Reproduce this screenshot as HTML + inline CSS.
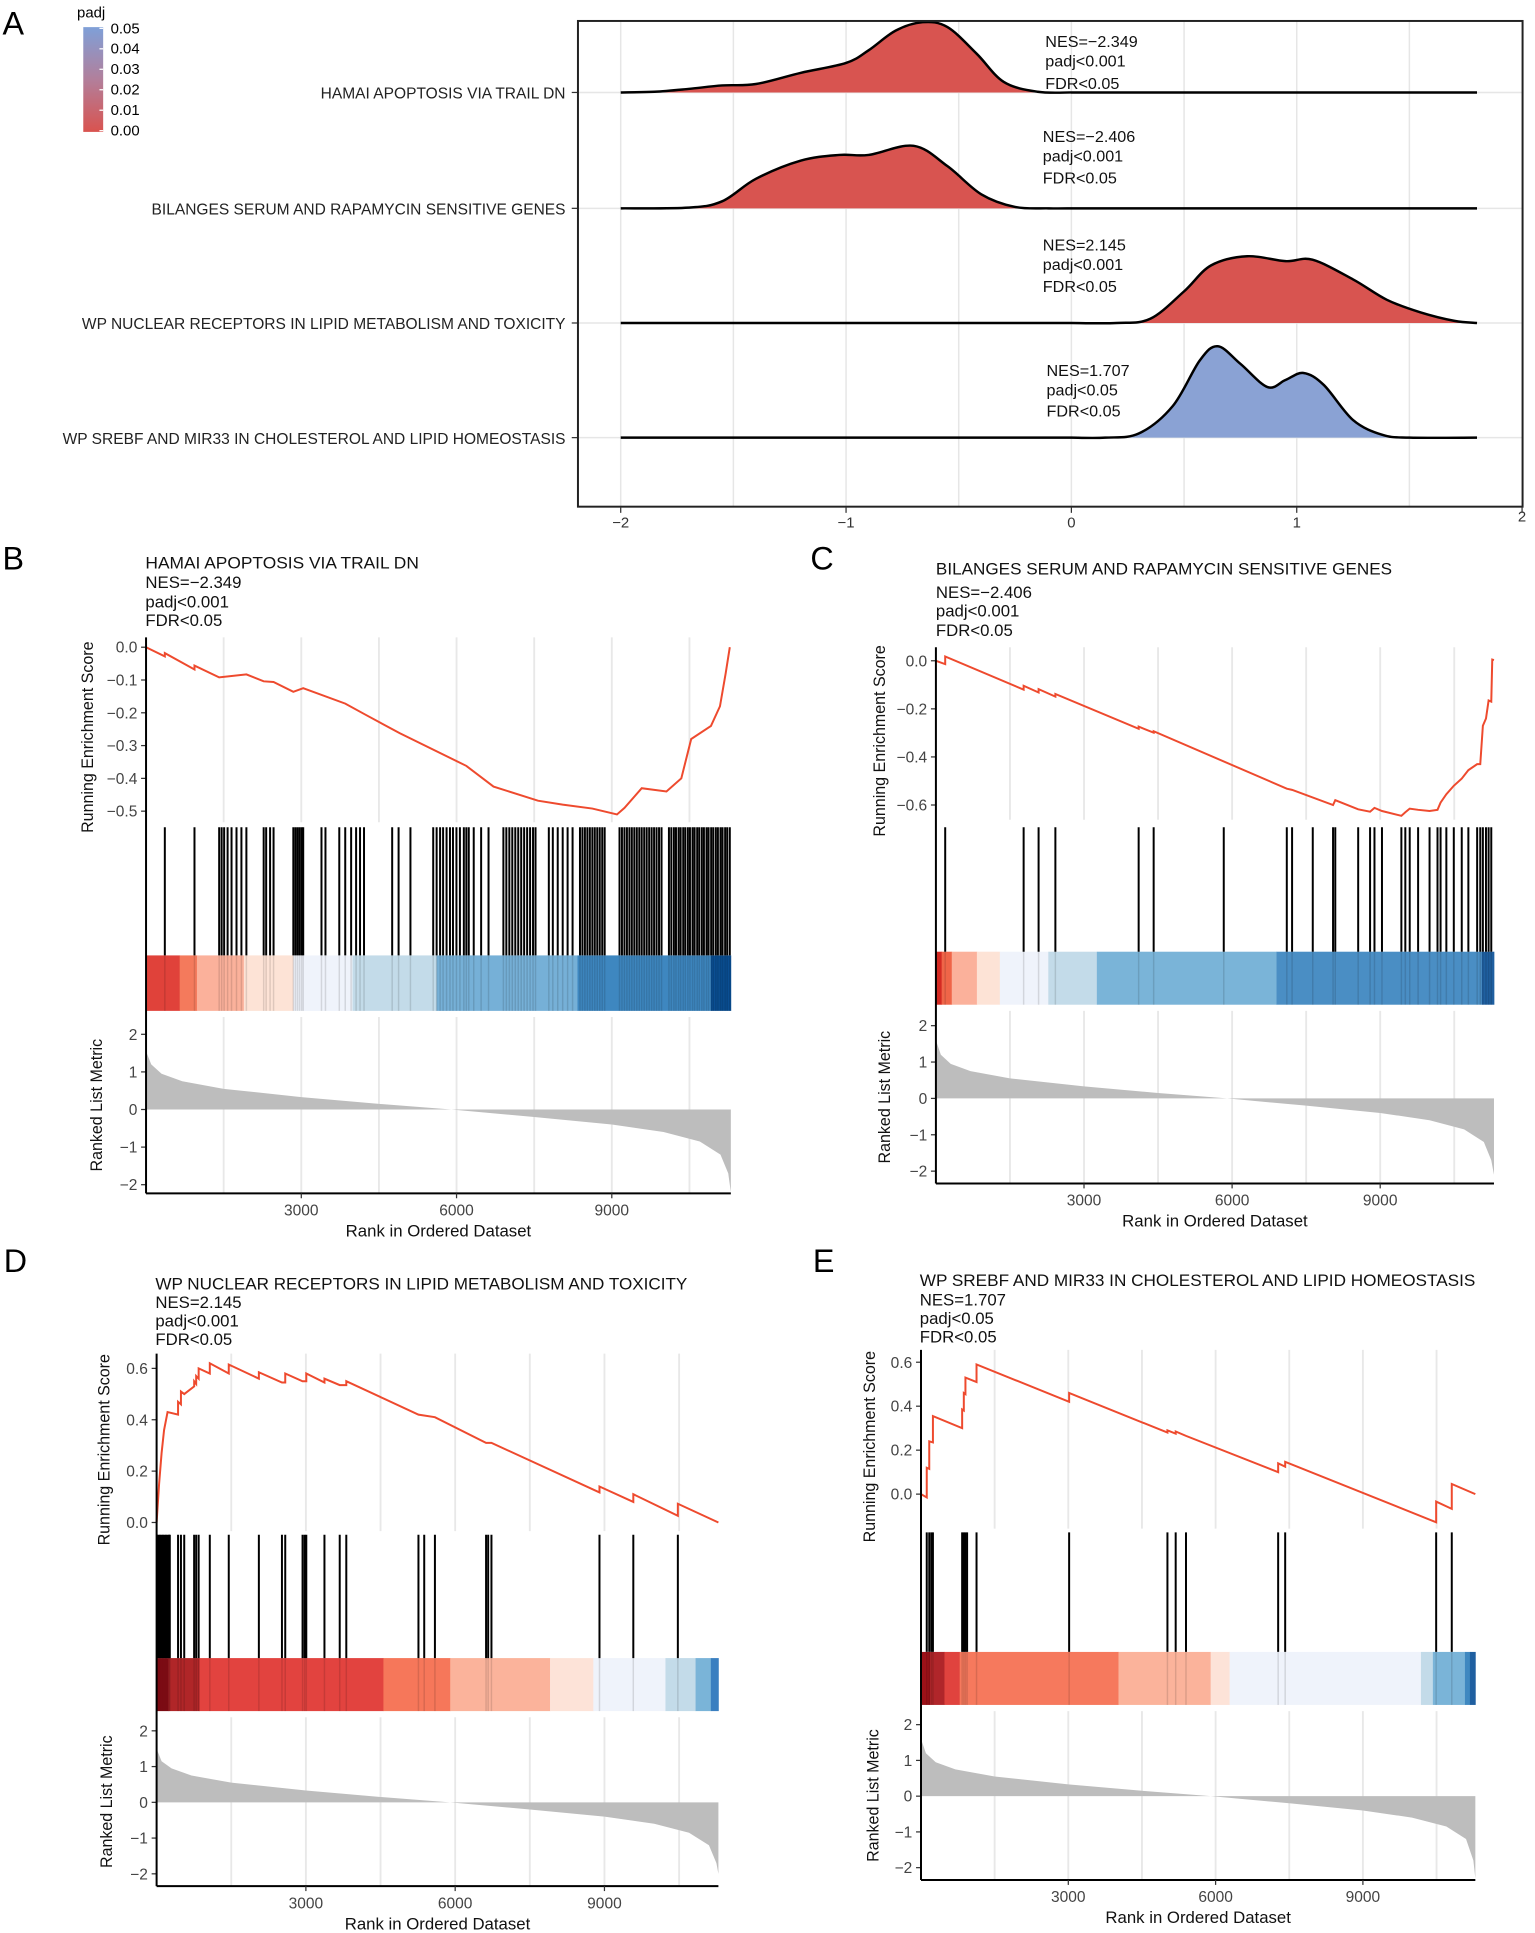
<!DOCTYPE html>
<html><head><meta charset="utf-8"><style>
html,body{margin:0;padding:0;background:#fff}
svg{display:block;font-family:"Liberation Sans",Arial,sans-serif}
</style></head><body>
<svg id="fig" xmlns="http://www.w3.org/2000/svg" width="1535" height="1933" viewBox="0 0 1235 1568" preserveAspectRatio="none"></svg>
<script>
// ---------- Panel A data ----------
const ridgeNames = ["HAMAI APOPTOSIS VIA TRAIL DN","BILANGES SERUM AND RAPAMYCIN SENSITIVE GENES","WP NUCLEAR RECEPTORS IN LIPID METABOLISM AND TOXICITY","WP SREBF AND MIR33 IN CHOLESTEROL AND LIPID HOMEOSTASIS"];
const ridgeNES = ["NES=−2.349","NES=−2.406","NES=2.145","NES=1.707"];
const ridgePadj = ["padj<0.001","padj<0.001","padj<0.001","padj<0.05"];
const ridgePadjValue = [0.0005,0.0005,0.0005,0.045];
const ridge1 = [[-2,0],[-1.85,0.01],[-1.7,0.05],[-1.55,0.1],[-1.4,0.12],[-1.2,0.28],[-1.0,0.42],[-0.9,0.6],[-0.78,0.88],[-0.66,1.0],[-0.55,0.93],[-0.42,0.55],[-0.3,0.15],[-0.15,0.01],[0,0]];
const ridge2 = [[-2,0],[-1.7,0.01],[-1.55,0.1],[-1.4,0.42],[-1.2,0.68],[-1.03,0.76],[-0.9,0.76],[-0.7,0.89],[-0.55,0.6],[-0.4,0.2],[-0.25,0.02],[-0.1,0],[0,0]];
const ridge3 = [[0,0],[0.2,0],[0.35,0.06],[0.5,0.45],[0.62,0.82],[0.78,0.95],[0.95,0.88],[1.07,0.9],[1.25,0.62],[1.4,0.33],[1.55,0.15],[1.7,0.03],[1.8,0]];
const ridge4 = [[0,0],[0.15,0],[0.3,0.06],[0.45,0.45],[0.57,1.1],[0.65,1.3],[0.75,1.05],[0.87,0.72],[0.95,0.82],[1.03,0.92],[1.12,0.75],[1.25,0.25],[1.38,0.04],[1.5,0],[1.8,0]];
const xTicksA = [-2,-1,0,1,2];

// ---------- GSEA data ----------
const esB = [[0,0],[363,-0.028],[363,-0.018],[936,-0.068],[936,-0.056],[1413,-0.092],[1940,-0.083],[2273,-0.104],[2464,-0.106],[2846,-0.136],[3037,-0.125],[3850,-0.172],[4231,-0.205],[4900,-0.262],[6190,-0.362],[6714,-0.425],[7573,-0.468],[8050,-0.48],[8624,-0.492],[9100,-0.51],[9245,-0.49],[9578,-0.43],[10056,-0.44],[10343,-0.4],[10534,-0.28],[10916,-0.24],[11090,-0.18],[11200,-0.08],[11280,0]];
const hitsB = [363,936,1413,1461,1509,1576,1652,1748,1843,1939,2273,2321,2397,2464,2846,2886,2926,2966,3006,3037,3390,3467,3734,3849,3963,4059,4135,4212,4756,4880,5109,5549,5615,5682,5740,5807,5873,5931,5998,6065,6141,6189,6236,6332,6475,6618,6905,6962,7020,7077,7135,7192,7249,7306,7364,7421,7478,7526,7783,7860,7955,8051,8146,8242,8385,8432,8480,8528,8576,8624,8671,8719,8767,8815,8862,9149,9196,9244,9292,9340,9387,9435,9483,9531,9578,9626,9674,9722,9770,9817,9865,9913,9961,10104,10150,10200,10240,10290,10330,10380,10420,10470,10510,10560,10600,10650,10690,10740,10780,10830,10870,10920,10960,11010,11050,11100,11140,11190,11230,11280];
const heatBreaksB = [0,650,984,1890,2846,3990,5615,8337,10916,11300];
const heatColorsB = ["#e0423a","#f47a5c","#fbb19b","#fde3d6","#eff3fb","#c3dbe9","#76b0d7","#3e87c0","#0a4e92"];
const metricB = [[0,1.55],[100,1.2],[300,0.95],[700,0.75],[1500,0.55],[3000,0.33],[4500,0.15],[5900,0],[7500,-0.2],[9000,-0.4],[10000,-0.6],[10700,-0.85],[11100,-1.2],[11250,-1.7],[11300,-2.2]];

const esC = [[0,0],[188,-0.014],[188,0.018],[1777,-0.12],[1777,-0.104],[2080,-0.132],[2080,-0.118],[2420,-0.149],[2420,-0.138],[4107,-0.283],[4107,-0.274],[4411,-0.299],[4411,-0.293],[7108,-0.532],[7215,-0.537],[8045,-0.6],[8090,-0.58],[8554,-0.618],[8795,-0.628],[8884,-0.612],[9036,-0.625],[9429,-0.645],[9509,-0.63],[9598,-0.615],[9768,-0.62],[10000,-0.625],[10161,-0.62],[10223,-0.59],[10340,-0.555],[10491,-0.52],[10652,-0.49],[10786,-0.455],[10964,-0.43],[11027,-0.43],[11080,-0.27],[11143,-0.24],[11196,-0.165],[11250,-0.17],[11270,0.005],[11305,0.003]];
const hitsC = [188,1777,2080,2420,4107,4411,5831,7108,7215,7634,8045,8090,8554,8795,8884,9036,9429,9509,9598,9768,10000,10161,10223,10340,10491,10652,10786,10964,11027,11080,11143,11196,11250];
const heatBreaksC = [0,116,321,830,1295,2277,3260,6900,11060,11305];
const heatColorsC = ["#d42a22","#ef6548","#fbb19b","#fde3d6","#eff3fb","#c3dbe9","#7ab4d8","#4a8ec4","#1f5fa0"];
const metricC = [[0,1.6],[100,1.2],[300,0.95],[700,0.75],[1500,0.55],[3000,0.33],[4500,0.15],[5900,0],[7500,-0.2],[9000,-0.4],[10000,-0.6],[10700,-0.85],[11100,-1.2],[11250,-1.7],[11305,-2.1]];

const esD = [[0,0],[50,0.15],[100,0.27],[150,0.36],[220,0.43],[431,0.42],[431,0.47],[489,0.46],[489,0.51],[555,0.5],[755,0.53],[755,0.55],[795,0.54],[795,0.57],[845,0.56],[845,0.6],[1069,0.58],[1069,0.62],[1450,0.58],[1450,0.615],[2055,0.56],[2055,0.585],[2519,0.545],[2585,0.545],[2585,0.58],[2933,0.55],[3008,0.55],[3008,0.58],[3373,0.545],[3373,0.56],[3680,0.535],[3812,0.535],[3812,0.55],[5262,0.42],[5593,0.41],[6621,0.31],[6729,0.31],[8900,0.117],[8900,0.14],[9580,0.08],[9580,0.11],[10475,0.026],[10475,0.073],[11290,0]];
const hitsD = [10,40,70,100,130,160,190,220,250,265,431,489,555,754,795,845,1069,1450,2055,2519,2585,2933,2975,3008,3373,3680,3812,5262,5378,5593,6621,6663,6729,8900,9580,10475];
const heatBreaksD = [0,240,862,4558,5900,7906,8776,10226,10831,11138,11290];
const heatColorsD = ["#8c0d16","#b02628","#e2433f","#f6775a","#fbb39b","#fde3d8","#eff3fb","#c3dbe9","#7ab4d8","#3a7fc0"];
const metricD = [[0,1.5],[100,1.15],[300,0.95],[700,0.75],[1500,0.55],[3000,0.33],[4500,0.15],[5900,0],[7500,-0.2],[9000,-0.4],[10000,-0.6],[10700,-0.85],[11100,-1.2],[11250,-1.7],[11290,-2.0]];

const esE = [[0,0],[117,-0.015],[117,0.12],[168,0.115],[168,0.24],[243,0.235],[243,0.355],[838,0.3],[838,0.385],[872,0.38],[872,0.46],[905,0.455],[905,0.53],[1131,0.51],[1131,0.59],[3017,0.42],[3017,0.46],[5019,0.28],[5019,0.29],[5187,0.275],[5187,0.285],[5397,0.265],[7274,0.1],[7274,0.14],[7417,0.125],[7417,0.147],[10492,-0.128],[10492,-0.034],[10810,-0.067],[10810,0.046],[11290,0]];
const hitsE = [117,168,210,243,838,872,905,939,1131,3017,5019,5187,5397,7274,7417,10492,10810];
const heatBreaksE = [0,184,478,788,4022,5899,6285,10182,10425,11078,11179,11290];
const heatColorsE = ["#9b1118","#b0262a","#e0433e","#f6795d","#fbb39b","#fde3d8","#eff3fb","#c3dbe9","#7ab4d8","#3f88c0","#1f5fa0"];
const metricE = [[0,1.6],[100,1.2],[300,0.95],[700,0.75],[1500,0.55],[3000,0.33],[4500,0.15],[5900,0],[7500,-0.2],[9000,-0.4],[10000,-0.6],[10700,-0.85],[11100,-1.2],[11250,-1.8],[11290,-2.3]];

const rankTicks = [3000,6000,9000];
const rankGrid = [1500,3000,4500,6000,7500,9000,10500];
const metricTicks = [2,1,0,-1,-2];

const NS = "http://www.w3.org/2000/svg";
const svg = document.getElementById("fig");
function el(tag, attrs, parent){const e=document.createElementNS(NS,tag);for(const k in attrs)e.setAttribute(k,attrs[k]);(parent||svg).appendChild(e);return e;}
function txt(s, attrs, parent){const e=el("text",attrs,parent);e.textContent=s;return e;}

// ---------- Panel A ----------
const gA = el("g",{});


const ax = v => 862 + v*181.3;
const baseY = [75,169,262,355];
const dScale = 57;
const lblA = txt("A",{x:2,y:28,"font-size":26},gA);


[-1.5,-0.5,0.5,1.5,-2,-1,0,1].forEach(v=>{const l=el("line",{x1:ax(v),x2:ax(v),y1:17,y2:411,stroke:"#e6e6e6","stroke-width":1.2},gA);

});
baseY.forEach(y=>{const l=el("line",{x1:465,x2:1225,y1:y,y2:y,stroke:"#e6e6e6","stroke-width":1.2},gA);

});
function smoothPath(pts){let d="M"+pts[0][0]+","+pts[0][1];for(let i=0;i<pts.length-1;i++){const p0=pts[i-1]||pts[i],p1=pts[i],p2=pts[i+1],p3=pts[i+2]||p2;const c1=[p1[0]+(p2[0]-p0[0])/6,p1[1]+(p2[1]-p0[1])/6],c2=[p2[0]-(p3[0]-p1[0])/6,p2[1]-(p3[1]-p1[1])/6];d+=` C${c1[0]},${c1[1]} ${c2[0]},${c2[1]} ${p2[0]},${p2[1]}`;}return d;}
function padjColor(p){const t=Math.min(1,p/0.05);const a=[217,83,79],b=[127,160,216];return `rgb(${a.map((c,i)=>Math.round(c+(b[i]-c)*t)).join(",")})`;}
const ridges=[ridge1,ridge2,ridge3,ridge4];
ridges.forEach((r,i)=>{
  const y0=baseY[i];
  const pts=r.map(p=>[ax(p[0]),y0-p[1]*dScale]);
  const d=smoothPath(pts);
  const fill=el("path",{d:d+` L${pts[pts.length-1][0]},${y0} L${pts[0][0]},${y0} Z`,fill:i===3?"#8aa2d4":padjColor(ridgePadjValue[i]),stroke:"none"},gA);
  
  
  const x0=ax(-2),x1=ax(1.8);
  const line=el("path",{d:`M${x0},${y0} L${pts[0][0]},${y0} `+d.replace(/^M[^ C]+/,"L"+pts[0][0]+","+pts[0][1])+` L${x1},${y0}`,fill:"none",stroke:"#000","stroke-width":2},gA);
  
  
  const lbl=txt(ridgeNames[i],{x:455,y:y0+5,"text-anchor":"end","font-size":12.5,fill:"#222"},gA);
  
  
  const tk=el("line",{x1:460,x2:465,y1:y0,y2:y0,stroke:"#333"},gA);
  
  
});
const annY=[[33,49,67],[110,126,144],[198,214,232],[300,316,333]];
const annX=[841,839,839,842];
ridges.forEach((r,i)=>{
  [ridgeNES[i],ridgePadj[i],"FDR<0.05"].forEach((s,j)=>{const t=txt(s,{x:annX[i],y:annY[i][j]+5,"font-size":13,fill:"#111"},gA);
  
  });
});
const boxA=el("rect",{x:465,y:17,width:760,height:394,fill:"none",stroke:"#222","stroke-width":1.6},gA);


xTicksA.forEach(v=>{const tk=el("line",{x1:ax(v),x2:ax(v),y1:411,y2:416,stroke:"#333"},gA);


const t=txt(v<0?"−"+(-v):String(v),{x:ax(v),y:v===2?423:428,"text-anchor":"middle","font-size":12,fill:"#333"},gA);

});
const defs=el("defs",{});
const lg=el("linearGradient",{id:"pg",x1:0,y1:0,x2:0,y2:1},defs);
el("stop",{offset:"0","stop-color":"#7fa0d8"},lg);el("stop",{offset:"0.5","stop-color":"#b27f9b"},lg);el("stop",{offset:"1","stop-color":"#d9534f"},lg);
const lgBar=el("rect",{x:67,y:22,width:16,height:85,fill:"url(#pg)"},gA);


const lgT=txt("padj",{x:62,y:14,"font-size":12},gA);


["0.05","0.04","0.03","0.02","0.01","0.00"].forEach((s,i)=>{const y=23+i*16.6;
const t=txt(s,{x:89,y:y+4,"font-size":12},gA);


el("line",{x1:80,x2:83,y1:y,y2:y,stroke:"#fff"},gA);});

// ---------- GSEA panels ----------
function drawGSEA(o){
  const g=el("g",{});
  
  
  const X=r=>o.x0+(r/o.maxRank)*(o.x1-o.x0);
  const Yes=v=>o.e0y+(v-o.e0v)*(o.e1y-o.e0y)/(o.e1v-o.e0v);
  const Ym=v=>o.m0y-v*(o.m0y-o.m2y)/2;
  const L=txt(o.letter,{x:o.lx,y:o.ly,"font-size":26},g);
  
  
  o.title.forEach((s,i)=>{const a={x:o.tx,y:o.ty[i],"font-size":13.5,fill:"#111"};if(i===0){a.textLength=o.tw;a.lengthAdjust="spacingAndGlyphs";}
    const t=txt(s,a,g);
    
    });
  rankGrid.forEach(r=>{[[o.esTop,o.esBot],[o.mTop,o.mBot]].forEach(([a,b])=>{const l=el("line",{x1:X(r),x2:X(r),y1:a,y2:b,stroke:"#e8e8e8","stroke-width":1.5},g);
  
  });});
  const es=el("polyline",{points:o.es.map(p=>X(p[0])+","+Yes(p[1])).join(" "),fill:"none",stroke:"#ee4a2e","stroke-width":1.6},g);
  
  
  o.esTicks.forEach(v=>{const y=Yes(v);el("line",{x1:o.x0-4,x2:o.x0,y1:y,y2:y,stroke:"#333"},g);
    const t=txt((v<0?"−":"")+Math.abs(v).toFixed(1),{x:o.x0-7,y:y+4.5,"text-anchor":"end","font-size":12.5,fill:"#444"},g);
    
    });
  for(let i=0;i<o.heatColors.length;i++){const r=el("rect",{x:X(o.heatBreaks[i]),y:o.hitBot,width:X(o.heatBreaks[i+1])-X(o.heatBreaks[i])+0.3,height:o.heatBot-o.hitBot,fill:o.heatColors[i]},g);
    
    }
  o.hits.forEach(h=>{const l=el("line",{x1:X(h),x2:X(h),y1:o.hitTop,y2:o.hitBot,stroke:"#000","stroke-width":1.6},g);
    
    
    el("line",{x1:X(h),x2:X(h),y1:o.hitBot,y2:o.heatBot,stroke:"#000","stroke-opacity":0.12,"stroke-width":1.2},g);});
  const mp=[[X(0),Ym(0)]].concat(o.metric.map(p=>[X(p[0]),Ym(p[1])])).concat([[X(o.metric[o.metric.length-1][0]),Ym(0)]]);
  const m=el("polygon",{points:mp.map(p=>p.join(",")).join(" "),fill:"#bdbdbd"},g);
  
  
  metricTicks.forEach(v=>{const y=Ym(v);el("line",{x1:o.x0-4,x2:o.x0,y1:y,y2:y,stroke:"#333"},g);
    const t=txt((v<0?"−":"")+Math.abs(v),{x:o.x0-7,y:y+4.5,"text-anchor":"end","font-size":12.5,fill:"#444"},g);
    
    });
  const ya=el("line",{x1:o.x0,x2:o.x0,y1:o.esTop,y2:o.mBot,stroke:"#000","stroke-width":1.6},g);
  
  
  const xa=el("line",{x1:o.x0,x2:o.x1,y1:o.mBot,y2:o.mBot,stroke:"#000","stroke-width":1.6},g);
  
  
  rankTicks.forEach(r=>{el("line",{x1:X(r),x2:X(r),y1:o.mBot,y2:o.mBot+4,stroke:"#333"},g);
    const t=txt(String(r),{x:X(r),y:o.mBot+18,"text-anchor":"middle","font-size":12.5,fill:"#444"},g);
    
    });
  const xt=txt("Rank in Ordered Dataset",{x:(o.x0+o.x1)/2,y:o.mBot+35,"text-anchor":"middle","font-size":13.5,fill:"#111"},g);
  
  
  const cy1=(o.esTop+o.esBot)/2+6, cy2=(o.mTop+o.mBot)/2;
  const t1=txt("Running Enrichment Score",{x:0,y:0,"text-anchor":"middle","font-size":13,fill:"#111",transform:`translate(${o.yt1},${cy1}) rotate(-90)`},g);
  
  
  const t2=txt("Ranked List Metric",{x:0,y:0,"text-anchor":"middle","font-size":13,fill:"#111",transform:`translate(${o.yt2},${cy2}) rotate(-90)`},g);
  
  
}
drawGSEA({name:"panel-b-gsea",letter:"B",lx:2,ly:462,tx:117,ty:[461,477,493,508],tw:220,
 title:["HAMAI APOPTOSIS VIA TRAIL DN","NES=−2.349","padj<0.001","FDR<0.05"],
 x0:117.5,x1:588,maxRank:11300,esTop:517,esBot:667,e0y:525,e0v:0,e1y:658,e1v:-0.5,esTicks:[0,-0.1,-0.2,-0.3,-0.4,-0.5],
 hitTop:671,hitBot:775,heatBot:820,mTop:825,mBot:968,m2y:839,m0y:900,yt1:75,yt2:82,
 es:esB,hits:hitsB,heatBreaks:heatBreaksB,heatColors:heatColorsB,metric:metricB});
drawGSEA({name:"panel-c-gsea",letter:"C",lx:652,ly:462,tx:753,ty:[466,485,500,516],tw:367,
 title:["BILANGES SERUM AND RAPAMYCIN SENSITIVE GENES","NES=−2.406","padj<0.001","FDR<0.05"],
 x0:753,x1:1202,maxRank:11305,esTop:525,esBot:665,e0y:536,e0v:0,e1y:653,e1v:-0.6,esTicks:[0,-0.2,-0.4,-0.6],
 hitTop:671,hitBot:772,heatBot:815,mTop:820,mBot:960,m2y:832,m0y:891,yt1:712,yt2:716,
 es:esC,hits:hitsC,heatBreaks:heatBreaksC,heatColors:heatColorsC,metric:metricC});
drawGSEA({name:"panel-d-gsea",letter:"D",lx:3,ly:1032,tx:125,ty:[1046,1061,1076,1091],tw:428,
 title:["WP NUCLEAR RECEPTORS IN LIPID METABOLISM AND TOXICITY","NES=2.145","padj<0.001","FDR<0.05"],
 x0:126,x1:578,maxRank:11290,esTop:1098,esBot:1242,e0y:1235,e0v:0,e1y:1110,e1v:0.6,esTicks:[0,0.2,0.4,0.6],
 hitTop:1245,hitBot:1345,heatBot:1388,mTop:1393,mBot:1530,m2y:1404,m0y:1462,yt1:88,yt2:90,
 es:esD,hits:hitsD,heatBreaks:heatBreaksD,heatColors:heatColorsD,metric:metricD});
drawGSEA({name:"panel-e-gsea",letter:"E",lx:654,ly:1032,tx:740,ty:[1043,1059,1074,1089],tw:447,
 title:["WP SREBF AND MIR33 IN CHOLESTEROL AND LIPID HOMEOSTASIS","NES=1.707","padj<0.05","FDR<0.05"],
 x0:741,x1:1187,maxRank:11290,esTop:1095,esBot:1240,e0y:1212,e0v:0,e1y:1105,e1v:0.6,esTicks:[0,0.2,0.4,0.6],
 hitTop:1243,hitBot:1340,heatBot:1383,mTop:1388,mBot:1525,m2y:1399,m0y:1457,yt1:704,yt2:707,
 es:esE,hits:hitsE,heatBreaks:heatBreaksE,heatColors:heatColorsE,metric:metricE});
</script>
</body></html>
